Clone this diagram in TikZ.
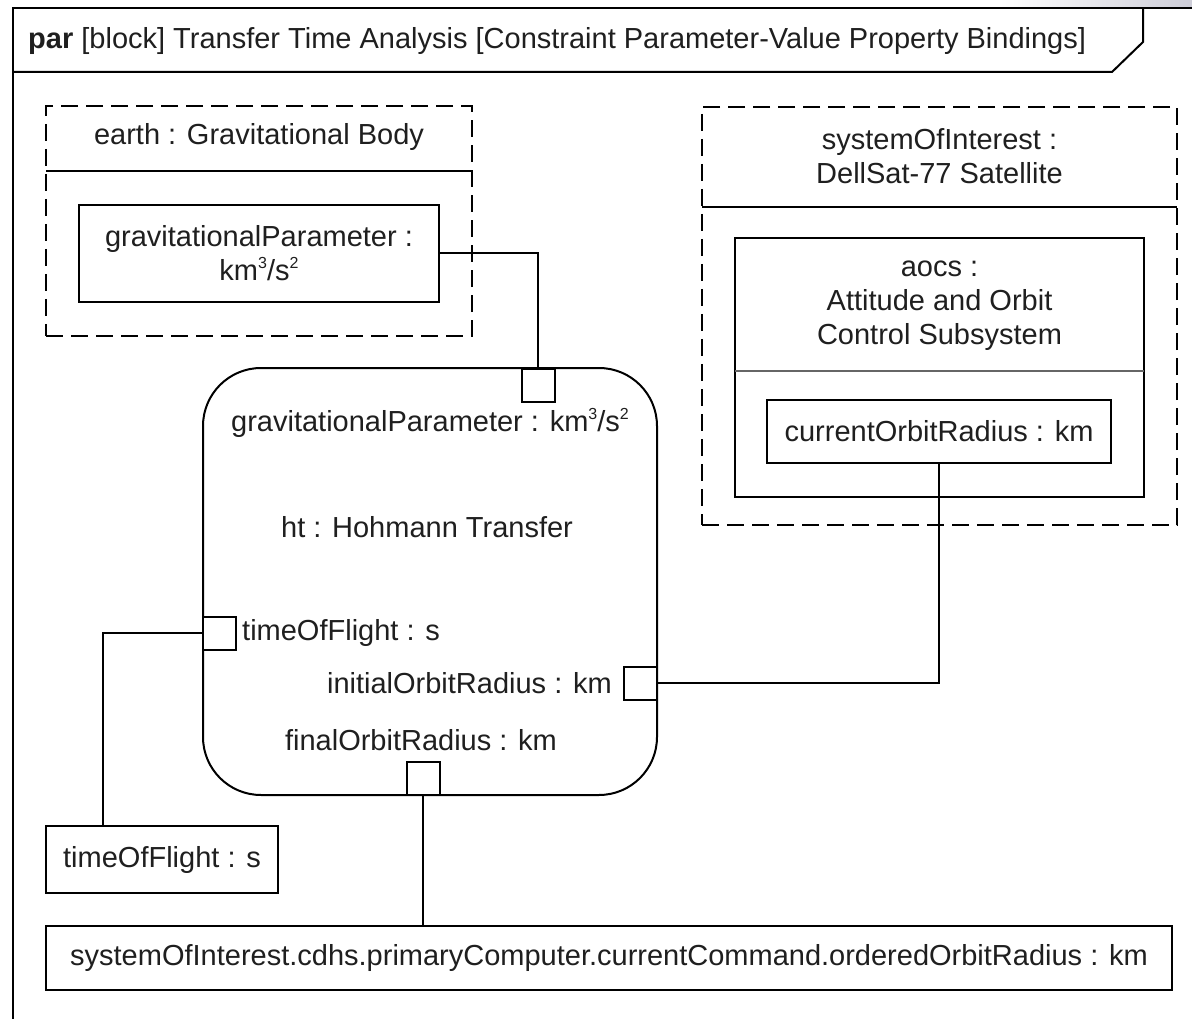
\documentclass[tikz,border=0pt]{standalone}
\usepackage{fontspec}
\setmainfont{Liberation Sans}
\newcommand\dfont{\fontsize{29}{34}\selectfont}
\newcommand\supx[1]{\raisebox{0.42em}{\fontsize{16}{16}\selectfont #1}}
\tikzset{
  lbl/.style={inner sep=0pt, align=center, font=\dfont, text=black!88},
  box/.style={draw, line width=2pt, inner sep=0pt, align=center, font=\dfont, text=black!88},
  dbox/.style={draw, line width=2pt, dash pattern=on 17pt off 8pt, inner sep=0pt},
  port/.style={draw, line width=2pt, fill=white, minimum size=33pt, inner sep=0pt},
  conn/.style={line width=2pt},
  sep/.style={line width=2pt},
}
\begin{document}
\begin{tikzpicture}[x=1pt, y=-1pt]
\useasboundingbox (0,0) rectangle (1192,1019);
\fill[white] (0,0) rectangle (1192,1019);
\shade[left color=white, right color=blue!12!gray!35] (1000,0) rectangle (1192,7);

% frame
\draw[line width=2.2pt] (13,1019) -- (13,8) -- (1192,8);
\draw[line width=2pt] (13,72) -- (1112,72) -- (1143,42) -- (1143,8);
\node[lbl, anchor=west] (title) at (28,41) {\textbf{par} [block] Transfer Time Analysis [Constraint Parameter-Value Property Bindings]};

% earth
\node[dbox, minimum width=426pt, minimum height=230pt] (earth) at (259,221) {};
\draw[sep] (46,171) -- (472,171);
\node[lbl] (earthT) at (259,137) {earth : Gravitational Body};
\node[box, minimum width=360pt, minimum height=97pt] (gpE) at (259,253.5) {gravitationalParameter :\\km\supx{3}/s\supx{2}};

% system of interest
\node[dbox, minimum width=475pt, minimum height=418pt] (soi) at (939.5,316) {};
\draw[sep] (702,207) -- (1177,207);
\node[lbl] (soiT) at (939.5,156) {systemOfInterest :\\DellSat-77 Satellite};
\node[box, minimum width=409pt, minimum height=259pt] (aocs) at (939.5,367.5) {};
\draw[line width=1.3pt, black!60] (735,371) -- (1144,371);
\node[lbl] (aocsT) at (939.5,306) {aocs :\\Attitude and Orbit\\Control Subsystem};
\node[box, minimum width=344pt, minimum height=63pt] (cor) at (939,431.5) {currentOrbitRadius : km};

% Hohmann transfer constraint
\node[draw, line width=2pt, rounded corners=58pt, minimum width=454pt, minimum height=427pt] (ht) at (430,581.5) {};
\node[port] (pGP) at (538,385) {};
\node[port] (pTOF) at (219.5,633) {};
\node[port] (pIOR) at (640.5,683) {};
\node[port] (pFOR) at (423,778.5) {};
\node[lbl] (lGP) at (430,423) {gravitationalParameter : km\supx{3}/s\supx{2}};
\node[lbl] (htT) at (427,527) {ht : Hohmann Transfer};
\node[lbl, anchor=west] (lTOF) at (242,633) {timeOfFlight : s};
\node[lbl, anchor=east] (lIOR) at (612,683) {initialOrbitRadius : km};
\node[lbl] (lFOR) at (421,740) {finalOrbitRadius : km};

% bottom boxes
\node[box, minimum width=232pt, minimum height=67pt] (tof) at (162,859.5) {timeOfFlight : s};
\node[box, minimum width=1126pt, minimum height=64pt] (cmd) at (609,958) {systemOfInterest.cdhs.primaryComputer.currentCommand.orderedOrbitRadius : km};

% connectors
\draw[conn] (gpE.east) -| (pGP.north);
\draw[conn] (pTOF.west) -| ([xshift=-59pt]tof.north);
\draw[conn] (pFOR.south) -- (pFOR.south |- cmd.north);
\draw[conn] (cor.south) |- (pIOR.east);
\end{tikzpicture}
\end{document}
